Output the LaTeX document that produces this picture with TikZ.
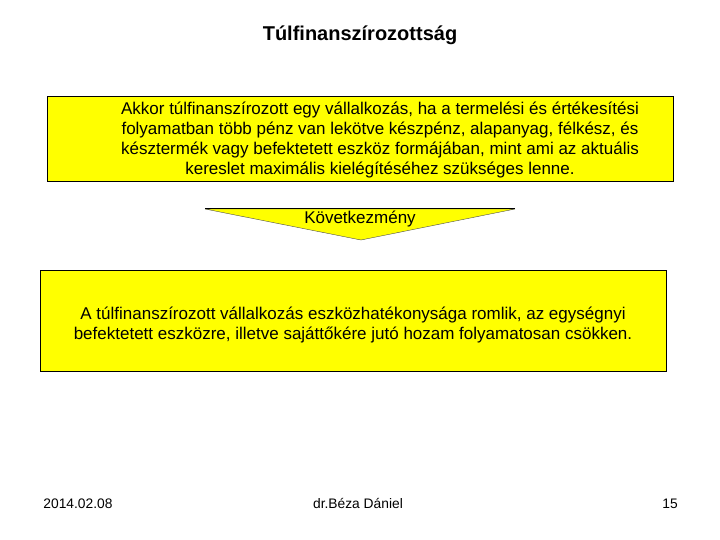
\documentclass[tikz,border=0pt]{standalone}
\usepackage{fontspec}
\setmainfont{Liberation Sans}
\usepackage{xcolor}
\definecolor{sarga}{rgb}{1,1,0}

\begin{document}
\begin{tikzpicture}[x=1pt,y=-1pt,
    doboz/.style={draw=black,fill=sarga,line width=0.8pt},
    szoveg/.style={align=center,font=\fontsize{17}{19.7}\selectfont},
    lab/.style={anchor=base,font=\fontsize{13.8}{16}\selectfont}]
    \useasboundingbox (0,0) rectangle (720,540);
    \node[font=\bfseries\fontsize{20}{22}\selectfont] (cim) at (360,35) {Túlfinanszírozottság};
    \draw[doboz] (47,96) rectangle (673,181);
    \node[szoveg] (meghat) at (380,140) {Akkor túlfinanszírozott egy vállalkozás, ha a termelési és értékesítési\\folyamatban több pénz van lekötve készpénz, alapanyag, félkész, és\\késztermék vagy befektetett eszköz formájában, mint ami az aktuális\\kereslet maximális kielégítéséhez szükséges lenne.};
    \coordinate (bal) at (205,209);
    \coordinate (jobb) at (515,209);
    \coordinate (csucs) at (361,240);
    \fill[sarga,draw=black!70,line width=0.4pt] (bal)--(jobb)--(csucs)--cycle;
    \draw[line width=1pt] (bal)--(jobb);
    \node[szoveg] (kov) at (360,219) {Következmény};
    \draw[doboz] (40,270) rectangle (666,371);
    \node[szoveg] (kovetk) at (353,325) {A túlfinanszírozott vállalkozás eszközhatékonysága romlik, az egységnyi\\befektetett eszközre, illetve sajáttőkére jutó hozam folyamatosan csökken.};
    \node[lab] (datum) at (78,508) {2014.02.08};
    \node[lab] (szerzo) at (358,508) {dr.Béza Dániel};
    \node[lab] (oldal) at (670,508) {15};
\end{tikzpicture}
\end{document}
